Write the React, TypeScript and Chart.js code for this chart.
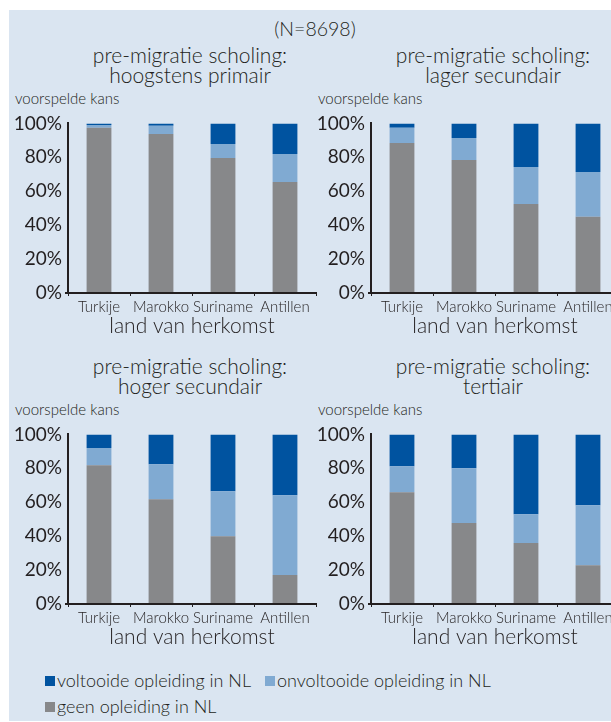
import React, { useEffect, useRef } from "react";
import { Chart, registerables } from "chart.js";
Chart.register(...registerables);

// ---------- data ----------
const categories = ["Turkije", "Marokko", "Suriname", "Antillen"];
const seriesNames = ["voltooide opleiding in NL", "onvoltooide opleiding in NL", "geen opleiding in NL"];
const panelTitles = [
  ["pre-migratie scholing:", "hoogstens primair"],
  ["pre-migratie scholing:", "lager secundair"],
  ["pre-migratie scholing:", "hoger secundair"],
  ["pre-migratie scholing:", "tertiair"],
];
const yTickStep = 20;
const yMax = 100;

// geen opleiding in NL (bottom)
const geenPrimair = [97.5, 93.7, 79.6, 65.5];
const geenLagerSec = [88.4, 78.4, 52.5, 44.9];
const geenHogerSec = [81.8, 61.8, 40.0, 17.1];
const geenTertiair = [65.9, 47.8, 35.9, 22.9];
// onvoltooide opleiding in NL (middle)
const onvolPrimair = [1.5, 4.9, 8.2, 16.5];
const onvolLagerSec = [9.1, 13.0, 21.8, 26.5];
const onvolHogerSec = [10.2, 20.6, 26.5, 47.0];
const onvolTertiair = [15.3, 32.2, 17.0, 35.3];
// voltooide opleiding in NL (top)
const voltPrimair = [1.0, 1.4, 12.2, 18.0];
const voltLagerSec = [2.5, 8.6, 25.7, 28.6];
const voltHogerSec = [8.0, 17.6, 33.5, 35.9];
const voltTertiair = [18.8, 20.0, 47.1, 41.8];

// ---------- styles ----------
const FONT = "Lato, 'Noto Sans', sans-serif";
const WEIGHT = 300;
const BG = "#dae5f1";
const DARK = "#0053a0";
const LIGHT = "#80aad2";
const GRAY = "#87888a";
const INK = "#231f20";
const seriesColors = [DARK, LIGHT, GRAY];

type PanelProps = {
  left: number;
  top: number;
  geen: number[];
  onvol: number[];
  volt: number[];
};

function Panel({ left, top, geen, onvol, volt }: PanelProps) {
  const ref = useRef<HTMLCanvasElement | null>(null);
  useEffect(() => {
    if (!ref.current) return;
    const chart = new Chart(ref.current, {
      type: "bar",
      data: {
        labels: categories,
        datasets: [
          { label: seriesNames[2], data: geen, backgroundColor: GRAY },
          { label: seriesNames[1], data: onvol, backgroundColor: LIGHT },
          { label: seriesNames[0], data: volt, backgroundColor: DARK },
        ],
      },
      options: {
        responsive: false,
        animation: false,
        devicePixelRatio: 1,
        layout: { padding: { left: 0, right: 8, top: 14, bottom: 0 } },
        plugins: { legend: { display: false }, title: { display: false }, tooltip: { enabled: false } },
        datasets: { bar: { barPercentage: 0.4, categoryPercentage: 1 } },
        scales: {
          x: {
            stacked: true,
            offset: true,
            grid: {
              offset: true,
              drawOnChartArea: false,
              drawTicks: true,
              tickLength: 3,
              color: INK,
              lineWidth: 1,
            },
            border: { display: true, color: INK, width: 2 },
            ticks: {
              color: INK,
              padding: 2,
              font: { family: FONT, size: 15, weight: WEIGHT as any },
              maxRotation: 0,
              autoSkip: false,
            },
            title: {
              display: true,
              text: "land van herkomst",
              color: INK,
              padding: { top: 0, bottom: 0 },
              font: { family: FONT, size: 21, weight: WEIGHT as any },
            },
            afterFit: (s: any) => {
              s.height = 46;
            },
          },
          y: {
            stacked: true,
            min: 0,
            max: yMax,
            grid: {
              drawOnChartArea: false,
              drawTicks: true,
              tickLength: 3,
              lineWidth: 2,
              color: (c: any) => (c.tick && c.tick.value === 0 ? INK : "rgba(0,0,0,0)"),
            },
            border: { display: true, color: INK, width: 2 },
            ticks: {
              stepSize: yTickStep,
              padding: 3,
              color: INK,
              font: { family: FONT, size: 19, weight: 400 as any },
              callback: (v: any) => v + "%",
            },
            afterFit: (s: any) => {
              s.width = 62;
            },
          },
        },
      },
    });
    return () => chart.destroy();
  }, []);
  return (
    <canvas
      ref={ref}
      width={318}
      height={230}
      style={{ position: "absolute", left, top, width: 318, height: 230 }}
    />
  );
}

const abs = (extra: React.CSSProperties): React.CSSProperties => ({
  position: "absolute",
  fontFamily: FONT,
  fontWeight: WEIGHT,
  color: INK,
  whiteSpace: "nowrap",
  ...extra,
});

function Title({ cx, cy, lines }: { cx: number; cy: number; lines: string[] }) {
  return (
    <div
      style={abs({
        left: cx,
        top: cy,
        transform: "translate(-50%, 0)",
        fontSize: 21,
        lineHeight: "20px",
        textAlign: "center",
      })}
    >
      {lines.map((l, i) => (
        <div key={i}>{l}</div>
      ))}
    </div>
  );
}

function YLabel({ x, cy }: { x: number; cy: number }) {
  return (
    <div style={abs({ left: x, top: cy - 8, fontSize: 15, lineHeight: "16px" })}>voorspelde kans</div>
  );
}

function LegendItem({ x, cy, color, text }: { x: number; cy: number; color: string; text: string }) {
  return (
    <div style={abs({ left: x, top: cy - 11, fontSize: 18, lineHeight: "22px", display: "flex", alignItems: "center" })}>
      <span style={{ display: "inline-block", width: 10, height: 10, background: color, marginRight: 2, marginTop: 2 }} />
      <span>{text}</span>
    </div>
  );
}

export default function App() {
  return (
    <div style={{ position: "absolute", left: 0, top: 0, width: 611, height: 722, overflow: "hidden" }}>
      <div style={{ position: "absolute", left: 9, top: 10, width: 660, height: 711, background: BG }} />
      <div style={abs({ left: 315, top: 18, transform: "translate(-50%, 0)", fontSize: 19.5, lineHeight: "22px" })}>
        (N=8698)
      </div>

      <Title cx={190} cy={45} lines={panelTitles[0]} />
      <Title cx={493} cy={45} lines={panelTitles[1]} />
      <Title cx={190} cy={356} lines={panelTitles[2]} />
      <Title cx={493} cy={356} lines={panelTitles[3]} />

      <YLabel x={15} cy={98} />
      <YLabel x={318} cy={98} />
      <YLabel x={15} cy={409} />
      <YLabel x={318} cy={409} />

      <Panel left={6} top={109} geen={geenPrimair} onvol={onvolPrimair} volt={voltPrimair} />
      <Panel left={309} top={109} geen={geenLagerSec} onvol={onvolLagerSec} volt={voltLagerSec} />
      <Panel left={6} top={420} geen={geenHogerSec} onvol={onvolHogerSec} volt={voltHogerSec} />
      <Panel left={309} top={420} geen={geenTertiair} onvol={onvolTertiair} volt={voltTertiair} />

      <LegendItem x={45} cy={680} color={seriesColors[0]} text={seriesNames[0]} />
      <LegendItem x={265} cy={680} color={seriesColors[1]} text={seriesNames[1]} />
      <LegendItem x={45} cy={706} color={seriesColors[2]} text={seriesNames[2]} />
    </div>
  );
}
